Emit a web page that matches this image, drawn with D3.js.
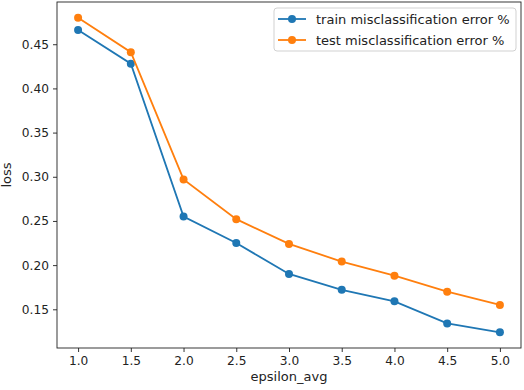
<!DOCTYPE html>
<html>
<head>
<meta charset="utf-8">
<script src="https://cdn.jsdelivr.net/npm/d3@7"></script>
<style>
  body { margin: 0; background: #fff; }
  text { font-family: "DejaVu Sans", sans-serif; }
</style>
</head>
<body>
<div id="chart"></div>
<script>
// values
var epsilon = [1.0, 1.5, 2.0, 2.5, 3.0, 3.5, 4.0, 4.5, 5.0];
var trainErr = [0.466, 0.428, 0.255, 0.225, 0.190, 0.172, 0.159, 0.134, 0.124];
var testErr = [0.480, 0.441, 0.297, 0.252, 0.224, 0.204, 0.188, 0.170, 0.155];
var xTicks = [1.0, 1.5, 2.0, 2.5, 3.0, 3.5, 4.0, 4.5, 5.0];
var yTicks = [0.15, 0.20, 0.25, 0.30, 0.35, 0.40, 0.45];
var seriesNames = ['train misclassification error %', 'test misclassification error %'];
var colors = ['#1f77b4', '#ff7f0e'];

var width = 524;
var height = 390;
var margin = {left: 57, right: 3, top: 2, bottom: 42};
var tickFont = 12.2;
var labelFont = 13;

var svg = d3.select('#chart')
    .append('svg')
    .attr('width', width)
    .attr('height', height);

// matplotlib style 5% padding on both axes
var xPad = (d3.max(epsilon) - d3.min(epsilon)) * 0.05;
var allY = trainErr.concat(testErr);
var yPad = (d3.max(allY) - d3.min(allY)) * 0.05;

var scaleX = d3.scaleLinear()
    .domain([d3.min(epsilon) - xPad, d3.max(epsilon) + xPad])
    .range([margin.left, width - margin.right]);

var scaleY = d3.scaleLinear()
    .domain([d3.min(allY) - yPad, d3.max(allY) + yPad])
    .range([height - margin.bottom, margin.top]);

var x_axis = d3.axisBottom(scaleX)
    .tickValues(xTicks)
    .tickFormat(d3.format('.1f'))
    .tickSize(4)
    .tickPadding(4);

var y_axis = d3.axisLeft(scaleY)
    .tickValues(yTicks)
    .tickFormat(d3.format('.2f'))
    .tickSize(4)
    .tickPadding(4);

var gx = svg.append('g')
    .attr('transform', 'translate(0,' + (height - margin.bottom) + ')')
    .call(x_axis);
var gy = svg.append('g')
    .attr('transform', 'translate(' + margin.left + ',0)')
    .call(y_axis);

[gx, gy].forEach(function(g) {
    g.select('.domain').remove();
    g.selectAll('.tick line').attr('stroke', '#000').attr('stroke-width', 0.8);
    g.selectAll('.tick text')
        .attr('fill', '#222')
        .style('font-size', tickFont + 'px')
        .style('font-family', '"DejaVu Sans", sans-serif');
});

// axes frame
svg.append('rect')
    .attr('x', margin.left)
    .attr('y', margin.top)
    .attr('width', width - margin.left - margin.right)
    .attr('height', height - margin.top - margin.bottom)
    .attr('fill', 'none')
    .attr('stroke', '#222')
    .attr('stroke-width', 0.9);

var line = d3.line()
    .x(function(d, i) { return scaleX(epsilon[i]); })
    .y(function(d) { return scaleY(d); });

[trainErr, testErr].forEach(function(series, k) {
    svg.append('path')
        .datum(series)
        .attr('d', line)
        .attr('fill', 'none')
        .attr('stroke', colors[k])
        .attr('stroke-width', 1.8);

    svg.append('g')
        .selectAll('circle')
        .data(series)
        .enter()
        .append('circle')
        .attr('cx', function(d, i) { return scaleX(epsilon[i]); })
        .attr('cy', function(d) { return scaleY(d); })
        .attr('r', 4)
        .attr('fill', colors[k]);
});

// axis labels
svg.append('text')
    .attr('x', (margin.left + width - margin.right) / 2)
    .attr('y', 381)
    .attr('text-anchor', 'middle')
    .attr('fill', '#222')
    .style('font-size', labelFont + 'px')
    .text('epsilon_avg');

svg.append('text')
    .attr('transform', 'translate(11,' + ((margin.top + height - margin.bottom) / 2) + ') rotate(-90)')
    .attr('text-anchor', 'middle')
    .attr('fill', '#222')
    .style('font-size', labelFont + 'px')
    .text('loss');

// legend
var legend = svg.append('g');
legend.append('rect')
    .attr('x', 274)
    .attr('y', 8)
    .attr('width', 242)
    .attr('height', 43)
    .attr('rx', 3)
    .attr('fill', 'rgba(255,255,255,0.8)')
    .attr('stroke', '#ccc')
    .attr('stroke-width', 0.9);

var rows = legend.selectAll('g.row')
    .data(seriesNames)
    .enter()
    .append('g')
    .attr('class', 'row')
    .attr('transform', function(d, i) { return 'translate(0,' + (19 + i * 21) + ')'; });

rows.append('line')
    .attr('x1', 278).attr('x2', 306)
    .attr('y1', 0).attr('y2', 0)
    .attr('stroke', function(d, i) { return colors[i]; })
    .attr('stroke-width', 1.8);
rows.append('circle')
    .attr('cx', 292).attr('cy', 0)
    .attr('r', 4)
    .attr('fill', function(d, i) { return colors[i]; });
rows.append('text')
    .attr('x', 316)
    .attr('y', 0)
    .attr('dy', '0.35em')
    .attr('fill', '#222')
    .style('font-size', labelFont + 'px')
    .text(function(d) { return d; });
</script>
</body>
</html>
